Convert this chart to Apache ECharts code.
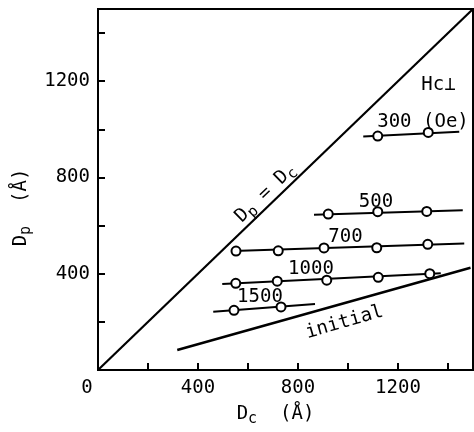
<!DOCTYPE html>
<html>
<head>
<meta charset="utf-8">
<script src="https://cdn.jsdelivr.net/npm/echarts@6/dist/echarts.min.js"></script>
<style>
  html, body { margin: 0; padding: 0; background: #fff; }
  #chart { width: 474px; height: 432px; }
</style>
</head>
<body>
<div id="chart"></div>
<script>
// Dp = Dc reference line and the initial curve
const diagDc = [0, 1500];
const diagDp = [0, 1500];
const initialDc = [317, 1490];
const initialDp = [83, 425];

// field curves (Oe): line ends + measured points
const fields = ['300', '500', '700', '1000', '1500'];
const lineDc = {
  '300': [1061, 1445],
  '500': [864, 1459],
  '700': [541, 1465],
  '1000': [497, 1371],
  '1500': [461, 868]
};
const lineDp = {
  '300': [970, 990],
  '500': [645, 664],
  '700': [494, 526],
  '1000': [357, 402],
  '1500': [242, 274]
};
const pointDc = {
  '300': [1119, 1321],
  '500': [921, 1119, 1315],
  '700': [552, 721, 904, 1115, 1319],
  '1000': [551, 717, 915, 1121, 1327],
  '1500': [544, 732]
};
const pointDp = {
  '300': [972, 987],
  '500': [648, 658, 659],
  '700': [494, 495, 507, 508, 522],
  '1000': [360, 369, 373, 385, 400],
  '1500': [248, 262]
};

// tick labels shown on the axes
const xTickLabels = [0, 400, 800, 1200];
const yTickLabels = [400, 800, 1200];

// text annotations placed in data coordinates
const annoText = ['300 (Oe)', '500', '700', '1000', '1500', 'Hc\u22a5', 'initial', 'Dp = Dc'];
const annoDc = [1300, 1112, 990, 852, 648, 1362, 986, 670];
const annoDp = [1030, 698, 552, 418, 302, 1185, 198, 734];
const annoRotate = [0, 0, 0, 0, 0, 0, 16, 44];

const FONT = 'DejaVu Sans Mono';
const richSub = {
  m: { fontFamily: FONT, fontSize: 19, color: '#000' },
  s: { fontFamily: FONT, fontSize: 15, color: '#000', padding: [10, 0, 0, 0] }
};

const chart = echarts.init(document.getElementById('chart'), null, { renderer: 'canvas' });

const zip = (a, b) => a.map((v, i) => [v, b[i]]);

const series = [];
series.push({
  type: 'line', data: zip(diagDc, diagDp), symbol: 'none',
  lineStyle: { color: '#000', width: 2.2 }, silent: true
});
series.push({
  type: 'line', data: zip(initialDc, initialDp), symbol: 'none',
  lineStyle: { color: '#000', width: 2.5 }, silent: true
});
fields.forEach(f => {
  series.push({
    type: 'line', data: zip(lineDc[f], lineDp[f]), symbol: 'none',
    lineStyle: { color: '#000', width: 2 }, silent: true, z: 2
  });
});
fields.forEach(f => {
  series.push({
    type: 'scatter', data: zip(pointDc[f], pointDp[f]),
    symbol: 'circle', symbolSize: 9,
    itemStyle: { color: '#fff', borderColor: '#000', borderWidth: 2, opacity: 1 },
    silent: true, z: 5
  });
});
series.push({
  type: 'scatter', symbol: 'circle', symbolSize: 1, silent: true, z: 6,
  itemStyle: { color: 'rgba(0,0,0,0)', opacity: 1 },
  data: annoText.map((t, i) => ({
    value: [annoDc[i], annoDp[i]],
    label: {
      show: true, position: 'inside', rotate: annoRotate[i],
      formatter: t === 'Dp = Dc' ? '{m|D}{s|p}{m| = D}{s|c}' : '{m|' + t + '}',
      color: '#000', fontFamily: FONT, fontSize: 19,
      rich: richSub
    }
  }))
});

const option = {
  backgroundColor: '#fff',
  animation: false,
  grid: {
    left: 98, right: 1, top: 9, bottom: 54,
    show: true, borderColor: '#000', borderWidth: 2, backgroundColor: 'transparent'
  },
  xAxis: {
    type: 'value', min: 0, max: 1500, interval: 200,
    name: '{m|D}{s|c}{m|  (Å)}',
    nameLocation: 'middle', nameGap: 32,
    nameTextStyle: { padding: [0, 20, 0, 0], rich: richSub },
    axisLine: { show: true, lineStyle: { color: '#000', width: 2 } },
    axisTick: { show: true, inside: true, length: 7, lineStyle: { color: '#000', width: 2 } },
    splitLine: { show: false },
    axisLabel: {
      showMaxLabel: false,
      margin: 9,
      color: '#000', fontFamily: FONT, fontSize: 19,
      formatter: v => (v === 0 ? '{z|0}' : (xTickLabels.includes(v) ? String(v) : '')),
      rich: { z: { fontFamily: FONT, fontSize: 19, color: '#000', padding: [0, 22, 0, 0] } }
    }
  },
  yAxis: {
    type: 'value', min: 0, max: 1500, interval: 200,
    name: '{m|D}{s|p}{m|  (Å)}',
    nameLocation: 'middle', nameGap: 57, nameRotate: 90,
    nameTextStyle: { padding: [0, 36, 0, 0], rich: richSub },
    axisLine: { show: true, lineStyle: { color: '#000', width: 2 } },
    axisTick: { show: true, inside: true, length: 7, lineStyle: { color: '#000', width: 2 } },
    splitLine: { show: false },
    axisLabel: {
      showMaxLabel: false,
      margin: 8,
      color: '#000', fontFamily: FONT, fontSize: 19,
      formatter: v => (yTickLabels.includes(v) ? String(v) : '')
    }
  },
  series: series
};

chart.setOption(option);
</script>
</body>
</html>
